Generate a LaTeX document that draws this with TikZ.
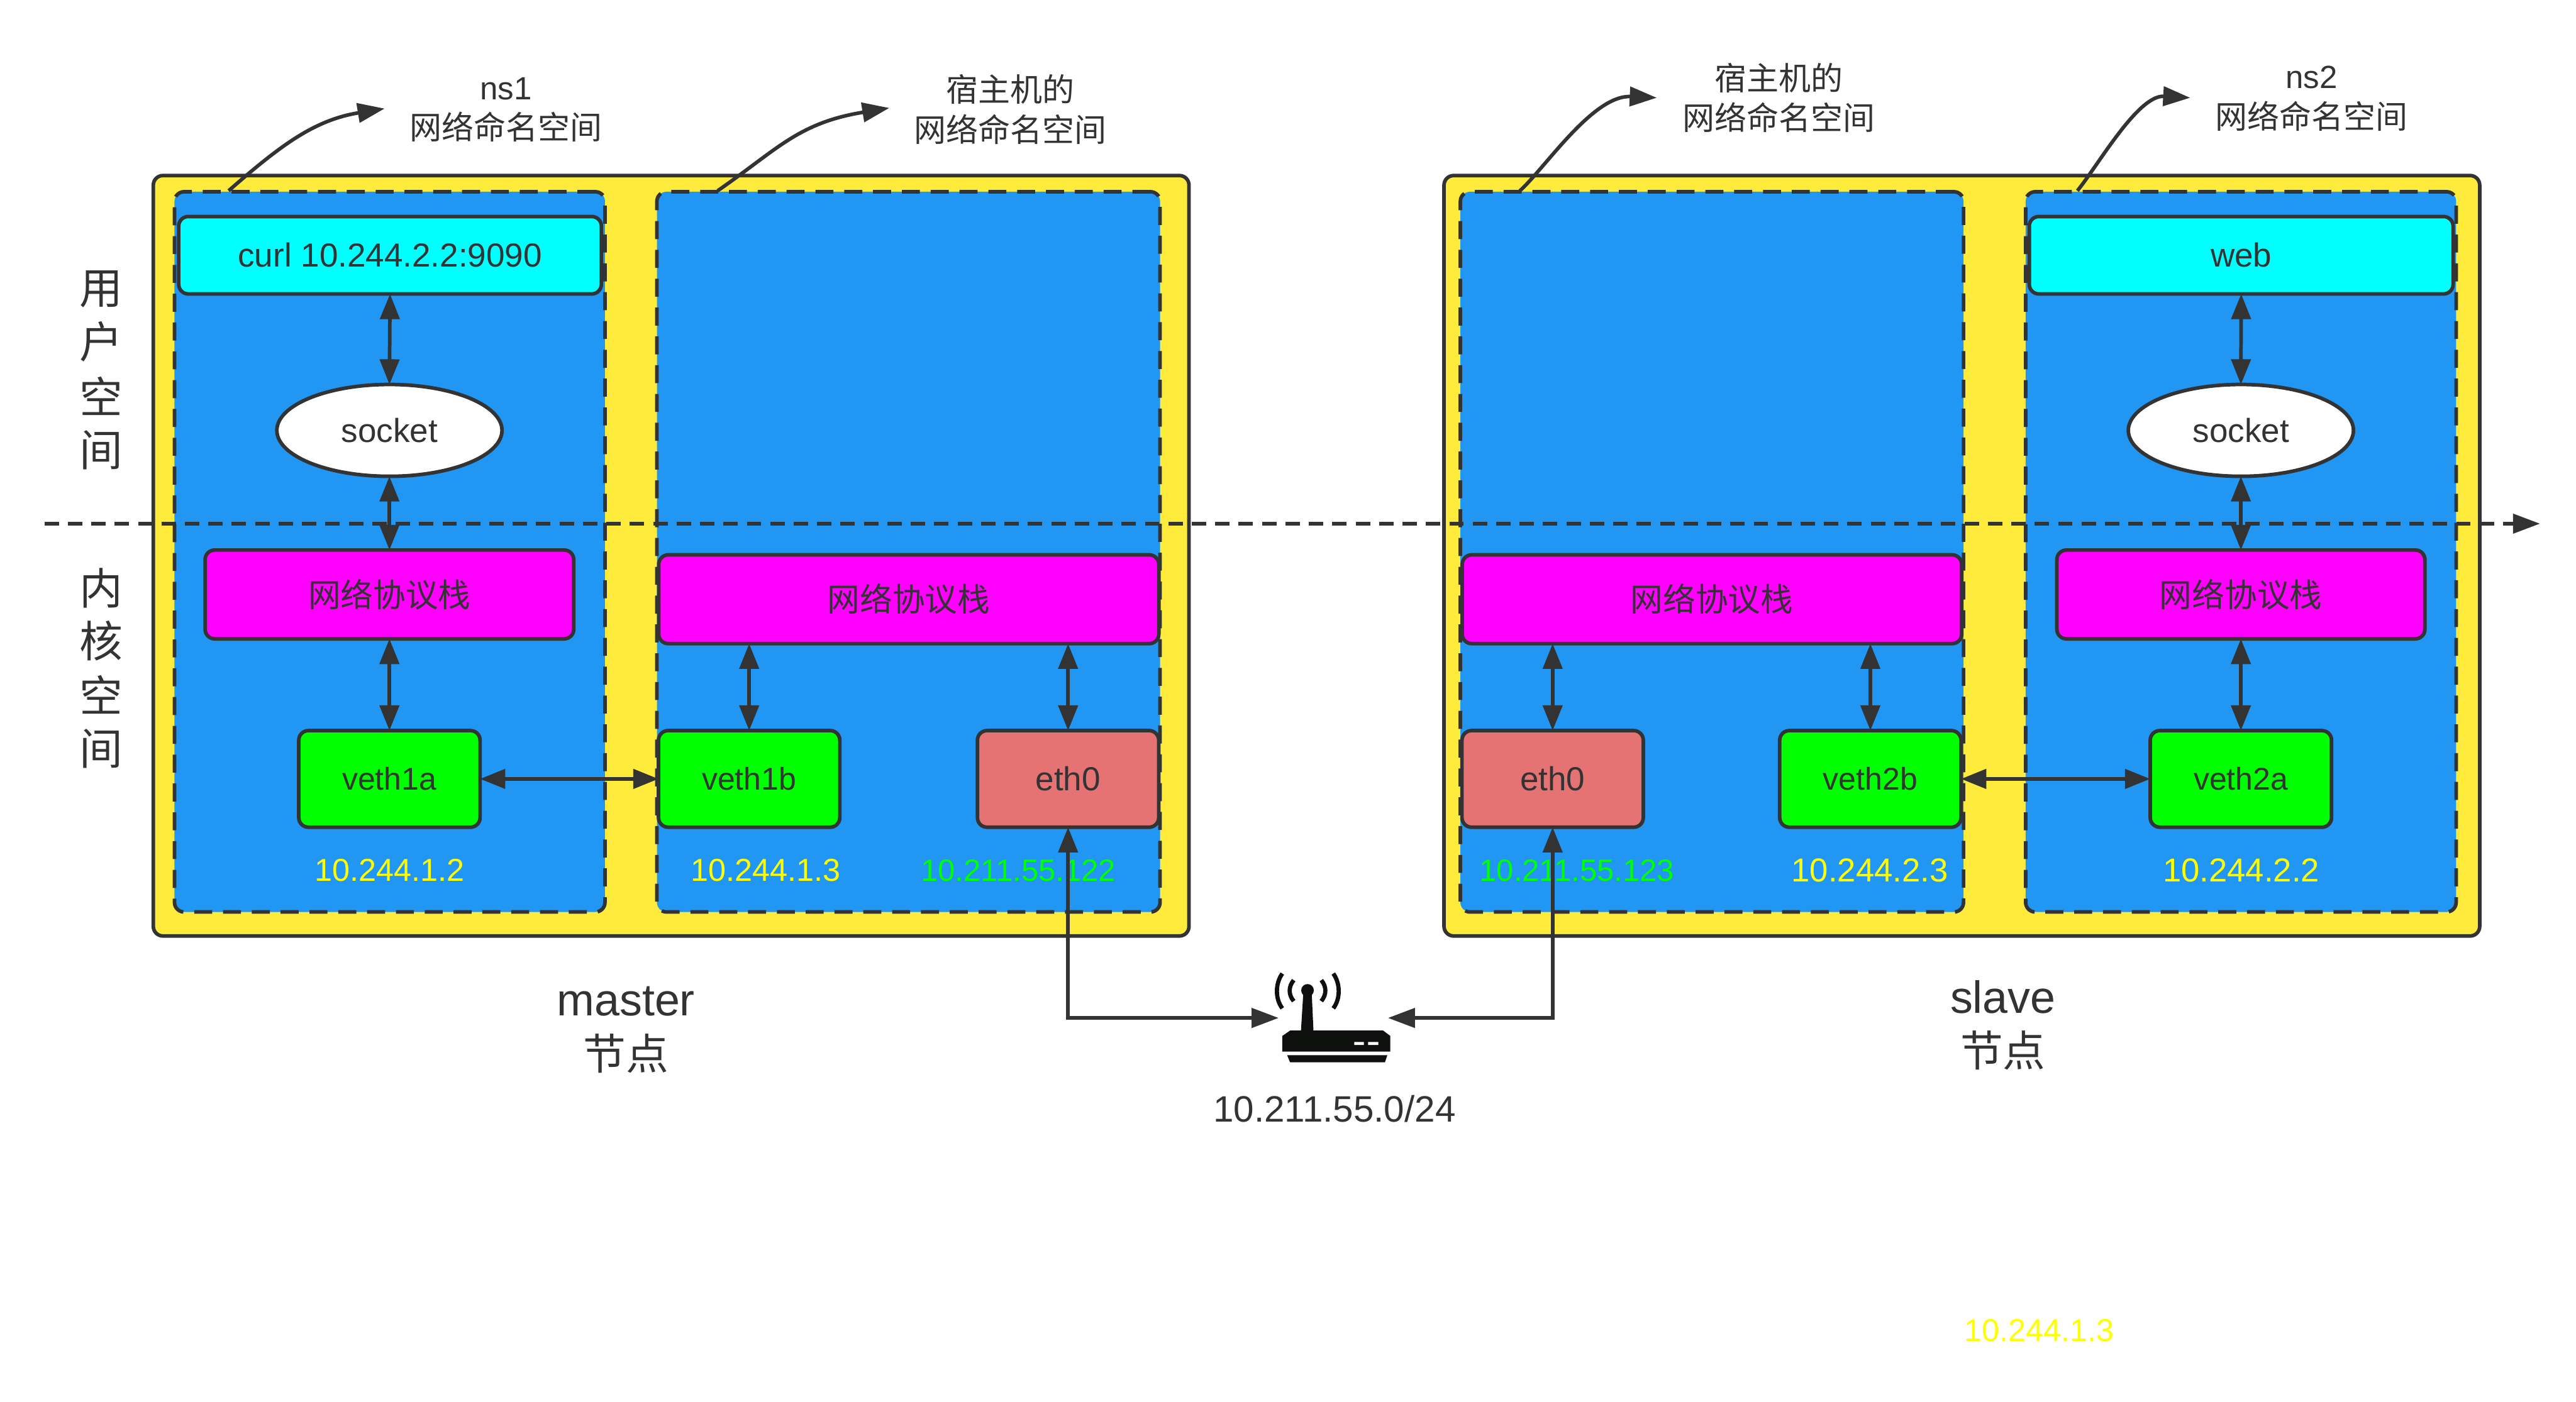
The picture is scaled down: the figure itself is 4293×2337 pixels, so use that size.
\documentclass[tikz,border=0pt]{standalone}
\usepackage{fontspec}
\setmainfont{Liberation Sans}
\newfontfamily\cjk{Noto Sans CJK SC}
\usetikzlibrary{arrows.meta,positioning,shapes.geometric}
\definecolor{ink}{HTML}{333333}
\definecolor{yel}{HTML}{FFEB3B}
\definecolor{blu}{HTML}{2196F3}
\definecolor{redb}{HTML}{E57373}
\definecolor{ipy}{RGB}{255,255,0}
\definecolor{ipg}{RGB}{0,255,0}
\definecolor{cyn}{RGB}{0,255,255}
\definecolor{mag}{RGB}{255,0,255}
\definecolor{routerink}{HTML}{0E100E}
\tikzset{
  x=0.01cm,y=-0.01cm,
  every node/.style={inner sep=0pt,outer sep=0pt,text=ink,font=\fontsize{15.8pt}{19pt}\selectfont,align=center},
  bx/.style={draw=ink,line width=0.06cm,rounded corners=0.16cm},
  outerbox/.style={bx,fill=yel,minimum height=12.67cm},
  nsbox/.style={draw=ink,line width=0.06cm,fill=blu,dash pattern=on 0.3cm off 0.18cm,rounded corners=0.16cm,minimum height=12cm},
  appbox/.style={bx,fill=cyn,minimum height=1.29cm},
  sock/.style={draw=ink,line width=0.06cm,fill=white,ellipse,minimum width=3.75cm,minimum height=1.53cm},
  stackbox/.style={bx,fill=mag,minimum height=1.48cm,font=\fontsize{15.4pt}{18pt}\selectfont\cjk},
  veth/.style={bx,fill=ipg,minimum width=3.02cm,minimum height=1.61cm,font=\fontsize{14.9pt}{18pt}\selectfont},
  ethb/.style={bx,fill=redb,minimum width=3.02cm,minimum height=1.61cm},
  iptext/.style={text=ipy,font=\fontsize{15pt}{18pt}\selectfont},
  iptextb/.style={text=ipy,font=\fontsize{15.7pt}{18pt}\selectfont},
  ipgreen/.style={text=ipg,font=\fontsize{14.6pt}{18pt}\selectfont},
  ctext/.style={font=\fontsize{15.2pt}{19pt}\selectfont},
  sidetext/.style={font=\fontsize{20.5pt}{24pt}\selectfont\cjk},
  bigtext/.style={font=\fontsize{21.4pt}{25.5pt}\selectfont},
  conn/.style={draw=ink,line width=0.06cm},
  both/.style={conn,{Triangle[length=0.42cm,width=0.32cm]}-{Triangle[length=0.42cm,width=0.32cm]}},
  wire/.style={conn,{Triangle[length=0.42cm,width=0.32cm]}-{Triangle[length=0.45cm,width=0.32cm]}},
  one/.style={conn,-{Triangle[length=0.45cm,width=0.32cm]}},
  divider/.style={conn,dash pattern=on 0.24cm off 0.15cm,-{Triangle[length=0.45cm,width=0.32cm]}},
  wave/.style={draw=routerink,line width=0.07cm},
}
\begin{document}
\begin{tikzpicture}
\useasboundingbox (0,0) rectangle (4293,2337);
\fill[white] (0,0) rectangle (4293,2337);
% outer boxes
\node[outerbox,minimum width=17.25cm] (mbox) at (1118.5,926.5) {};
\node[outerbox,minimum width=17.25cm] (sbox) at (3269.5,926.5) {};
% namespaces
\node[nsbox,minimum width=7.17cm] (ns1) at (649.5,920) {};
\node[nsbox,minimum width=8.38cm] (hostm) at (1514,920) {};
\node[nsbox,minimum width=8.38cm] (hosts) at (2853,920) {};
\node[nsbox,minimum width=7.17cm] (ns2) at (3734.5,920) {};
% dashed divider
\coordinate (divl) at (74,873);
\coordinate (divr) at (4233,873);
\draw[divider] (divl) -- (divr);
% left stack
\node[appbox,minimum width=7.04cm] (curl) at (650,425.5) {curl 10.244.2.2:9090};
\node[sock] (sock1) at (649,717.5) {socket};
\node[stackbox,minimum width=6.14cm] (st1) at (649,991) {网络协议栈};
\node[veth] (v1a) at (649,1298.5) {veth1a};
% master host
\node[stackbox,minimum width=8.33cm] (st2) at (1514.5,999) {网络协议栈};
\node[veth] (v1b) at (1248.5,1298.5) {veth1b};
\node[ethb] (em) at (1780,1298.5) {eth0};
% slave host
\node[stackbox,minimum width=8.32cm] (st3) at (2853,999) {网络协议栈};
\node[ethb] (es) at (2587.5,1298.5) {eth0};
\node[veth] (v2b) at (3117,1298.5) {veth2b};
% right stack
\node[appbox,minimum width=7.06cm] (web) at (3735,425.5) {web};
\node[sock] (sock2) at (3734.5,717.5) {socket};
\node[stackbox,minimum width=6.13cm] (st4) at (3734.5,991) {网络协议栈};
\node[veth] (v2a) at (3734.5,1298.5) {veth2a};
% connectors
\draw[both] (curl.south) -- (sock1.north);
\draw[both] (sock1.south) -- (st1.north);
\draw[both] (st1.south) -- (v1a.north);
\draw[both] (v1a.east) -- (v1b.west);
\draw[both] (v1b.north) -- (v1b.north |- st2.south);
\draw[both] (em.north) -- (em.north |- st2.south);
\draw[both] (es.north) -- (es.north |- st3.south);
\draw[both] (v2b.north) -- (v2b.north |- st3.south);
\draw[both] (v2b.east) -- (v2a.west);
\draw[both] (web.south) -- (sock2.north);
\draw[both] (sock2.south) -- (st4.north);
\draw[both] (st4.south) -- (v2a.north);
% ip texts
\node[iptext] (ip1) at (649,1451) {10.244.1.2};
\node[iptext] (ip2) at (1276,1451) {10.244.1.3};
\node[ipgreen] (ip3) at (1697,1451) {10.211.55.122};
\node[ipgreen] (ip4) at (2628,1451) {10.211.55.123};
\node[iptextb] (ip5) at (3116,1451) {10.244.2.3};
\node[iptextb] (ip6) at (3735,1451) {10.244.2.2};
\node[iptext] (ip7) at (3398,2218) {10.244.1.3};
% router
\node[minimum width=1.82cm,minimum height=0.01cm] (router) at (2222,1697) {};
\draw[wire] (em.south) |- (router.west);
\draw[wire] (es.south) |- (router.east);
\begin{scope}
\fill[routerink] (2172,1655) -- (2186,1655) -- (2189,1720) -- (2168,1720) -- cycle;
\fill[routerink] (2179,1651) circle[radius=0.105cm];
\fill[routerink] (2137,1753) -- (2137,1727) -- (2150,1718) -- (2305,1718) -- (2317,1727) -- (2317,1753) -- cycle;
\fill[routerink] (2145,1759) -- (2312,1759) -- (2308,1771) -- (2150,1771) -- cycle;
\fill[white] (2257,1737) rectangle (2273,1742) (2280,1737) rectangle (2297,1742);
\draw[wave] (2137,1623) .. controls (2125,1640) and (2125,1665) .. (2137,1681);
\draw[wave] (2222,1623) .. controls (2234,1640) and (2234,1665) .. (2222,1681);
\draw[wave] (2156,1634) .. controls (2147,1645) and (2147,1658) .. (2156,1669);
\draw[wave] (2202,1634) .. controls (2211,1645) and (2211,1658) .. (2202,1669);
\end{scope}
\node[font=\fontsize{17.4pt}{21pt}\selectfont] (rlabel) at (2224,1848) {10.211.55.0/24};
% namespace labels
\node[ctext] (lab1) at (843,183) {ns1\\\cjk 网络命名空间};
\node[ctext] (lab2) at (1684,182) {\cjk 宿主机的\\\cjk 网络命名空间};
\node[ctext] (lab3) at (2965,163) {\cjk 宿主机的\\\cjk 网络命名空间};
\node[ctext] (lab4) at (3852,164) {ns2\\\cjk 网络命名空间};
% pointer arrows
\coordinate (p1a) at (381,318);
\coordinate (p1b) at (641,181);
\coordinate (p2a) at (1196,318);
\coordinate (p2b) at (1482,180);
\coordinate (p3a) at (2533,318);
\coordinate (p3b) at (2761,163);
\coordinate (p4a) at (3462,318);
\coordinate (p4b) at (3650,163);
\draw[one] (p1a) .. controls (470,240) and (525,200) .. (p1b);
\draw[one] (p2a) .. controls (1297,248) and (1330,205) .. (p2b);
\draw[one] (p3a) .. controls (2575,280) and (2655,158) .. (p3b);
\draw[one] (p4a) .. controls (3497,275) and (3563,158) .. (p4b);
% side text
\node[sidetext] (u1) at (169,482) {用};
\node[sidetext] (u2) at (169,570) {户};
\node[sidetext] (u3) at (169,660) {空};
\node[sidetext] (u4) at (169,750) {间};
\node[sidetext] (k1) at (169,980) {内};
\node[sidetext] (k2) at (169,1068) {核};
\node[sidetext] (k3) at (169,1158) {空};
\node[sidetext] (k4) at (169,1248) {间};
% node names
\node[bigtext] (mname) at (1043,1717) {master\\{\cjk\fontsize{20.2pt}{25.5pt}\selectfont 节点}};
\node[bigtext] (sname) at (3338,1709) {slave\\{\cjk\fontsize{20.2pt}{25.5pt}\selectfont 节点}};
\end{tikzpicture}
\end{document}
